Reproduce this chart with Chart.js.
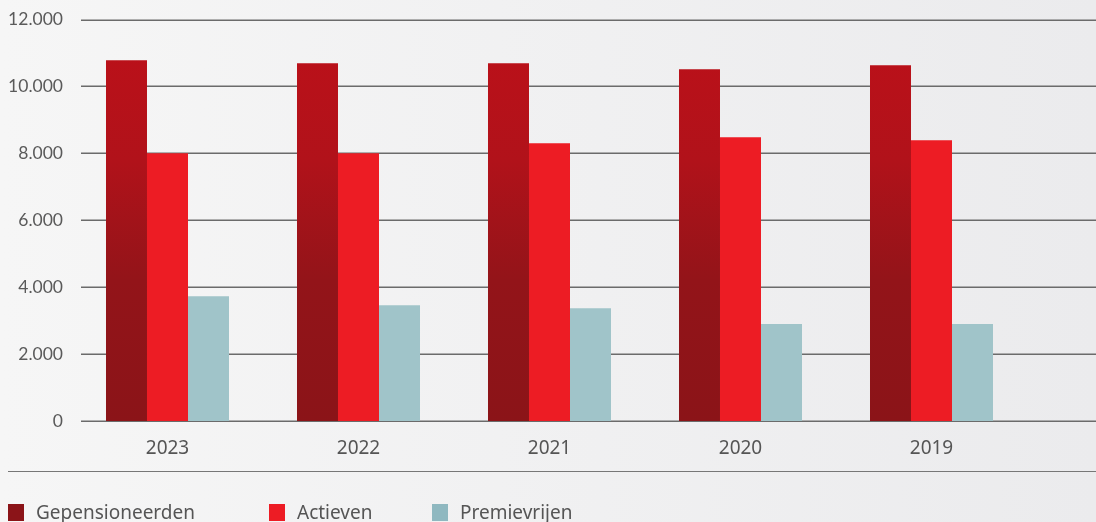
<!DOCTYPE html>
<html>
<head>
<meta charset="utf-8">
<script src="https://cdn.jsdelivr.net/npm/chart.js@4"></script>
<style>
    html, body { margin: 0; padding: 0; }
    body {
        width: 1096px; height: 522px; overflow: hidden; position: relative;
        background: linear-gradient(to right, #f6f6f6, #ebebed);
        font-family: "Noto Sans", "Open Sans", sans-serif;
    }
    #wrap { position: absolute; left: 0; top: 0; width: 1096px; height: 522px; }
    #sep { position: absolute; left: 8px; right: 0; top: 471px; border-top: 1.5px solid #777; }
    #legend { position: absolute; top: 499px; left: 0; font-size: 19px; color: #555; }
    .item { position: absolute; white-space: nowrap; display: flex; align-items: center; }
    .sw { width: 16px; height: 17px; margin-right: 12px; }
</style>
</head>
<body>
<div id="wrap"><canvas id="chart" width="1096" height="522"></canvas></div>
<div id="sep"></div>
<div id="legend"></div>
<script>
// Data
const years = ['2023', '2022', '2021', '2020', '2019'];
const gepensioneerden = [10780, 10690, 10690, 10510, 10630];
const actieven = [8000, 8000, 8300, 8480, 8390];
const premievrijen = [3730, 3460, 3370, 2900, 2900];
const yTicks = [0, 2000, 4000, 6000, 8000, 10000, 12000];

const seriesNames = ['Gepensioneerden', 'Actieven', 'Premievrijen'];
const legendColors = ['#8b1418', '#ed1c24', '#8fb8c0'];
const legendLeft = [8, 269, 432];

// Legend (html)
const legend = document.getElementById('legend');
seriesNames.forEach((name, i) => {
    const el = document.createElement('div');
    el.className = 'item';
    el.style.left = legendLeft[i] + 'px';
    el.innerHTML = `<span class="sw" style="background:${legendColors[i]}"></span><span>${name}</span>`;
    legend.appendChild(el);
});

// Dark red gradient for the first series
function darkGradient(context) {
    const chart = context.chart;
    const area = chart.chartArea;
    if (!area) return '#a3121a';
    const g = chart.ctx.createLinearGradient(0, area.top, 0, area.bottom);
    g.addColorStop(0, '#bd1019');
    g.addColorStop(0.35, '#b1121a');
    g.addColorStop(0.65, '#931419');
    g.addColorStop(1, '#8b1418');
    return g;
}

// Gridlines from x=81 to the right edge
const gridPlugin = {
    id: 'gridLines',
    beforeDatasetsDraw(chart) {
        const ctx = chart.ctx;
        const y = chart.scales.y;
        ctx.save();
        ctx.strokeStyle = '#6b6b6b';
        ctx.lineWidth = 1.5;
        yTicks.forEach(v => {
            const py = Math.round(y.getPixelForValue(v)) + 0.25;
            ctx.beginPath();
            ctx.moveTo(81, py);
            ctx.lineTo(chart.width, py);
            ctx.stroke();
        });
        ctx.restore();
    }
};

new Chart(document.getElementById('chart').getContext('2d'), {
    type: 'bar',
    data: {
        labels: years,
        datasets: [
            { label: seriesNames[0], data: gepensioneerden, backgroundColor: darkGradient },
            { label: seriesNames[1], data: actieven, backgroundColor: '#ed1c24' },
            { label: seriesNames[2], data: premievrijen, backgroundColor: '#a0c4c9' }
        ]
    },
    options: {
        responsive: false,
        animation: false,
        layout: { padding: { left: 0, right: 69, top: 19, bottom: 0 } },
        datasets: { bar: { categoryPercentage: 0.644, barPercentage: 1.0 } },
        plugins: { legend: { display: false }, tooltip: { enabled: false } },
        scales: {
            x: {
                grid: { display: false, drawTicks: false },
                border: { display: false },
                ticks: { color: '#555', font: { family: 'Noto Sans', size: 19 }, padding: 16 },
                afterFit: s => { s.height = 101; }
            },
            y: {
                min: 0, max: 12000,
                afterBuildTicks: s => { s.ticks = yTicks.map(v => ({ value: v })); },
                grid: { display: false, drawTicks: false },
                border: { display: false },
                ticks: {
                    color: '#5a5a5a',
                    font: { family: 'Lato', size: 17.5 },
                    padding: 9,
                    callback: v => v === 0 ? '0' : v.toLocaleString('nl-NL')
                },
                afterFit: s => { s.width = 72; }
            }
        }
    },
    plugins: [gridPlugin]
});
</script>
</body>
</html>
